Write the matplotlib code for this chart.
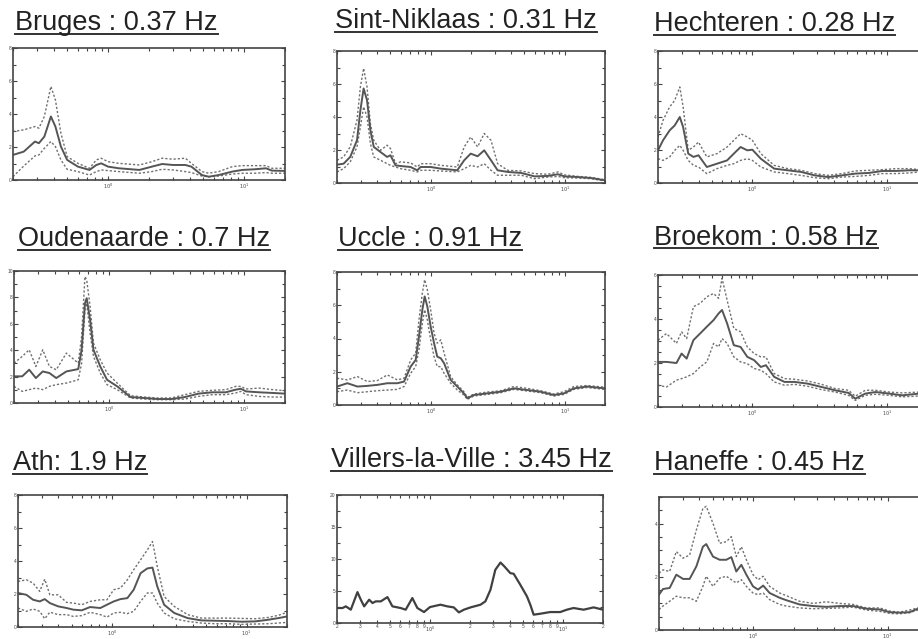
import math
import matplotlib.pyplot as plt
from matplotlib.lines import Line2D
from matplotlib.ticker import FixedLocator, FuncFormatter, MultipleLocator, NullFormatter

plt.rcParams['font.family'] = ['Liberation Sans', 'DejaVu Sans']

# ---- data (H/V spectral ratio, frequency in Hz) ----
bruges_f = [0.2, 0.24, 0.29, 0.31, 0.34, 0.38, 0.41, 0.45, 0.5, 0.6, 0.73, 0.82, 0.89, 1.0, 1.2,
            1.7, 2.1, 2.5, 3.0, 3.7, 4.1, 4.9, 5.5, 6.5, 8.2, 9.7, 12, 14.5, 16, 20]
bruges_mean = [1.52, 1.72, 2.33, 2.23, 2.63, 3.85, 3.24, 2.03, 1.22, 0.81, 0.61, 0.91, 1.01, 0.81, 0.71,
               0.61, 0.81, 0.97, 0.91, 0.91, 0.81, 0.30, 0.20, 0.30, 0.51, 0.61, 0.65, 0.71, 0.57, 0.55]
bruges_hi = [2.94, 3.04, 3.24, 3.14, 3.85, 5.67, 4.86, 2.84, 1.42, 1.01, 0.71, 1.22, 1.32, 1.11, 1.01,
             0.91, 1.11, 1.32, 1.26, 1.32, 1.01, 0.51, 0.41, 0.51, 0.81, 0.87, 0.87, 0.87, 0.71, 0.71]
bruges_lo = [0.20, 0.85, 1.46, 1.52, 1.92, 2.33, 2.03, 1.22, 0.65, 0.51, 0.30, 0.51, 0.61, 0.57, 0.51,
             0.41, 0.51, 0.65, 0.61, 0.51, 0.45, 0.24, 0.20, 0.24, 0.36, 0.41, 0.41, 0.45, 0.41, 0.41]

sint_f = [0.2, 0.224, 0.251, 0.282, 0.299, 0.316, 0.335, 0.355, 0.376, 0.422, 0.473, 0.501, 0.547,
          0.596, 0.708, 0.794, 0.841, 1.0, 1.19, 1.58, 1.78, 1.99, 2.24, 2.51, 2.82, 3.16, 3.76,
          4.73, 5.96, 7.5, 8.9, 10, 12.6, 15.8, 20]
sint_mean = [1.11, 1.17, 1.58, 2.59, 4.41, 5.73, 5.02, 3.2, 2.19, 1.88, 1.58, 1.68, 1.07, 1.03, 0.97,
             0.77, 0.97, 0.97, 0.87, 0.77, 1.38, 1.78, 1.62, 1.98, 1.38, 0.77, 0.67, 0.61, 0.4, 0.43,
             0.53, 0.4, 0.36, 0.3, 0.16]
sint_hi = [1.38, 1.58, 2.19, 3.81, 5.83, 6.95, 5.83, 3.6, 2.59, 1.98, 2.29, 2.09, 1.17, 1.28, 1.22,
           0.97, 1.17, 1.17, 1.07, 0.97, 2.19, 2.79, 2.19, 3.0, 2.59, 1.17, 0.77, 0.73, 0.57, 0.53,
           0.67, 0.49, 0.4, 0.34, 0.2]
sint_lo = [0.67, 0.87, 1.28, 2.19, 3.4, 4.62, 4.01, 2.39, 1.58, 1.38, 1.17, 1.07, 0.97, 0.87, 0.77,
           0.67, 0.77, 0.77, 0.73, 0.67, 0.87, 1.07, 0.97, 1.17, 0.77, 0.47, 0.47, 0.47, 0.26, 0.36,
           0.4, 0.32, 0.3, 0.26, 0.12]

hech_f = [0.2, 0.218, 0.244, 0.266, 0.29, 0.307, 0.335, 0.366, 0.399, 0.46, 0.547, 0.65, 0.729, 0.818,
          0.917, 1.0, 1.155, 1.45, 1.83, 2.3, 2.9, 3.65, 4.6, 5.8, 7.3, 9.2, 11.6, 14.5, 17.3, 20]
hech_mean = [1.98, 2.59, 3.19, 3.49, 4.0, 3.39, 1.78, 1.58, 1.68, 0.97, 1.17, 1.37, 1.78, 2.18, 1.98,
             2.02, 1.47, 0.87, 0.77, 0.67, 0.46, 0.36, 0.46, 0.57, 0.61, 0.73, 0.73, 0.77, 0.77, 0.77]
hech_hi = [2.79, 3.8, 4.61, 5.01, 5.82, 4.61, 1.98, 2.18, 2.48, 1.58, 1.78, 2.18, 2.59, 2.99, 2.79,
           2.59, 1.78, 1.07, 0.87, 0.77, 0.57, 0.46, 0.57, 0.73, 0.77, 0.81, 0.87, 0.87, 0.81, 0.81]
hech_lo = [1.47, 1.37, 1.58, 1.98, 2.28, 1.98, 1.37, 1.07, 0.97, 0.57, 0.87, 1.07, 1.17, 1.37, 1.47,
           1.37, 0.97, 0.67, 0.57, 0.46, 0.32, 0.26, 0.36, 0.4, 0.46, 0.57, 0.57, 0.61, 0.67, 0.67]

oud_f = [0.2, 0.23, 0.259, 0.29, 0.326, 0.365, 0.41, 0.487, 0.596, 0.631, 0.668, 0.688, 0.729, 0.772,
         0.866, 0.972, 1.155, 1.45, 1.83, 2.3, 2.9, 3.65, 4.6, 5.8, 7.3, 8.66, 9.45, 10.3, 12.9, 16.3, 20]
oud_mean = [2.02, 2.02, 2.52, 1.89, 2.39, 2.27, 1.89, 2.39, 2.57, 4.03, 7.56, 7.94, 6.3, 4.03, 2.77,
            1.76, 1.26, 0.45, 0.38, 0.3, 0.3, 0.45, 0.71, 0.81, 0.81, 1.01, 1.08, 0.88, 0.81, 0.76, 0.71]
oud_hi = [3.02, 3.53, 4.03, 2.77, 4.03, 2.77, 2.52, 3.78, 3.02, 5.04, 9.58, 9.32, 7.31, 4.54, 3.28,
          2.27, 1.51, 0.55, 0.45, 0.38, 0.38, 0.63, 0.88, 0.96, 1.01, 1.26, 1.26, 1.06, 1.13, 1.01, 0.93]
oud_lo = [1.26, 0.88, 1.01, 1.13, 1.01, 1.26, 1.39, 1.51, 1.76, 3.02, 7.06, 7.56, 5.29, 3.53, 2.27,
          1.39, 1.01, 0.38, 0.3, 0.25, 0.25, 0.3, 0.5, 0.63, 0.63, 0.76, 0.88, 0.63, 0.5, 0.45, 0.45]

uccle_f = [0.2, 0.239, 0.284, 0.337, 0.4, 0.475, 0.564, 0.633, 0.709, 0.773, 0.818, 0.867, 0.902,
           0.944, 1.0, 1.06, 1.12, 1.19, 1.26, 1.41, 1.58, 1.77, 1.88, 2.1, 2.65, 3.33, 4.18, 5.27,
           6.6, 8.3, 9.9, 11.7, 14.7, 20]
uccle_mean = [1.11, 1.31, 1.11, 1.15, 1.21, 1.31, 1.31, 1.41, 2.31, 2.71, 4.12, 5.73, 6.53, 5.93, 4.72,
              3.72, 2.91, 2.81, 2.51, 1.51, 1.11, 0.7, 0.4, 0.6, 0.7, 0.8, 1.0, 0.9, 0.8, 0.6, 0.7,
              1.0, 1.11, 1.0]
uccle_hi = [1.61, 1.51, 1.71, 1.41, 1.47, 1.81, 1.51, 1.61, 2.71, 3.12, 5.13, 6.73, 7.54, 6.93, 5.73,
            4.32, 3.72, 3.92, 3.12, 1.71, 1.21, 0.8, 0.46, 0.66, 0.78, 0.86, 1.11, 1.0, 0.86, 0.66,
            0.8, 1.11, 1.17, 1.07]
uccle_lo = [0.8, 0.9, 0.74, 0.8, 0.86, 0.9, 0.94, 1.11, 1.91, 2.31, 3.32, 4.92, 5.73, 5.13, 3.92,
            2.91, 2.31, 2.31, 1.91, 1.31, 0.9, 0.6, 0.34, 0.54, 0.64, 0.74, 0.94, 0.84, 0.74, 0.54,
            0.64, 0.94, 1.05, 0.94]

broek_f = [0.2, 0.231, 0.274, 0.299, 0.326, 0.366, 0.41, 0.46, 0.516, 0.562, 0.596, 0.65, 0.729, 0.818,
           0.917, 1.03, 1.155, 1.26, 1.45, 1.73, 2.05, 2.58, 3.25, 4.1, 5.16, 5.78, 6.87, 8.17, 10.3,
           12.9, 17.3, 20]
broek_mean = [2.05, 2.05, 2.0, 2.43, 2.2, 3.04, 3.34, 3.65, 3.95, 4.25, 4.41, 3.8, 2.81, 2.73, 2.28,
              2.13, 1.82, 1.9, 1.37, 1.14, 1.14, 1.06, 0.91, 0.76, 0.64, 0.38, 0.61, 0.68, 0.61, 0.53,
              0.61, 0.61]
broek_hi = [3.04, 3.34, 2.89, 3.42, 3.11, 4.56, 4.71, 5.01, 5.16, 4.94, 5.85, 4.86, 3.57, 3.42, 2.73,
            2.43, 2.28, 2.28, 1.52, 1.29, 1.26, 1.18, 1.03, 0.84, 0.76, 0.49, 0.76, 0.76, 0.68, 0.64,
            0.68, 0.68]
broek_lo = [0.99, 0.91, 1.22, 1.29, 1.37, 1.52, 1.82, 2.05, 2.89, 2.73, 3.11, 2.89, 2.28, 2.05, 1.97,
            1.75, 1.67, 1.52, 1.14, 0.99, 1.03, 0.94, 0.79, 0.68, 0.53, 0.3, 0.53, 0.58, 0.53, 0.46,
            0.5, 0.5]

ath_f = [0.2, 0.231, 0.259, 0.29, 0.316, 0.345, 0.398, 0.46, 0.516, 0.596, 0.688, 0.818, 0.917, 1.03,
         1.155, 1.3, 1.45, 1.63, 1.83, 2.0, 2.17, 2.44, 2.9, 3.65, 4.6, 5.8, 7.3, 9.2, 11.6, 14.5, 17.3, 20]
ath_mean = [2.06, 1.95, 1.65, 1.55, 1.69, 1.45, 1.25, 1.15, 1.05, 1.01, 1.21, 1.15, 1.35, 1.55, 1.69,
            1.75, 2.26, 3.26, 3.55, 3.6, 2.46, 1.35, 0.85, 0.54, 0.4, 0.38, 0.36, 0.32, 0.34, 0.44,
            0.54, 0.64]
ath_hi = [2.76, 2.86, 2.66, 2.16, 2.9, 1.95, 1.95, 1.49, 1.45, 1.35, 1.55, 1.65, 1.65, 2.26, 2.36,
          2.86, 3.47, 4.07, 4.67, 5.18, 3.67, 1.85, 1.25, 0.75, 0.54, 0.54, 0.54, 0.52, 0.5, 0.58,
          0.71, 0.89]
ath_lo = [1.15, 0.95, 1.09, 0.95, 0.5, 0.9, 0.75, 0.75, 0.64, 0.69, 0.89, 0.75, 0.6, 0.85, 0.89,
          0.81, 0.95, 1.55, 2.06, 2.06, 1.45, 0.85, 0.5, 0.34, 0.24, 0.2, 0.2, 0.16, 0.18, 0.2,
          0.24, 0.28]

vil_f = [0.2, 0.22, 0.233, 0.254, 0.285, 0.302, 0.32, 0.349, 0.37, 0.391, 0.427, 0.479, 0.522, 0.602,
         0.657, 0.737, 0.804, 0.902, 1.0, 1.2, 1.35, 1.51, 1.65, 1.8, 2.02, 2.4, 2.61, 2.85, 3.1, 3.39,
         3.63, 4.02, 4.26, 4.78, 5.36, 5.68, 6.02, 6.76, 8.0, 9.53, 10.7, 12, 14.3, 17, 20]
vil_hv = [2.34, 2.34, 2.6, 2.08, 4.83, 3.64, 2.6, 3.64, 3.12, 3.38, 3.38, 4.05, 2.6, 2.34, 2.08,
          3.9, 2.34, 1.71, 2.49, 2.86, 2.6, 2.44, 1.66, 2.08, 2.44, 2.86, 3.38, 5.19, 8.31, 9.45,
          8.83, 7.79, 7.69, 5.97, 4.16, 2.86, 1.3, 1.45, 1.71, 1.71, 2.08, 2.34, 2.08, 2.44, 2.08]

han_f = [0.2, 0.214, 0.24, 0.269, 0.302, 0.338, 0.379, 0.424, 0.449, 0.504, 0.565, 0.633, 0.69, 0.751,
         0.819, 0.892, 1.0, 1.09, 1.19, 1.33, 1.58, 1.77, 2.22, 2.8, 3.51, 4.42, 5.55, 6.97, 8.76,
         10.4, 12.3, 14.6, 16.8, 20]
han_mean = [1.33, 1.54, 1.58, 2.08, 1.92, 1.92, 2.39, 3.13, 3.23, 2.76, 2.64, 2.64, 2.74, 2.2, 2.45,
            2.08, 1.64, 1.52, 1.67, 1.39, 1.21, 1.12, 0.96, 0.9, 0.87, 0.9, 0.9, 0.8, 0.77, 0.67,
            0.65, 0.67, 0.8, 0.8]
han_hi = [2.14, 2.26, 2.2, 2.95, 2.7, 2.82, 3.76, 4.57, 4.65, 4.01, 3.26, 3.32, 3.51, 2.76, 3.13,
          2.64, 2.08, 1.89, 2.02, 1.64, 1.39, 1.29, 1.08, 1.0, 1.06, 1.0, 0.96, 0.83, 0.83, 0.71,
          0.67, 0.75, 0.83, 0.83]
han_lo = [0.77, 0.9, 1.08, 1.27, 1.21, 1.21, 1.08, 1.64, 2.02, 1.64, 1.95, 2.02, 1.89, 1.77, 1.89,
          1.64, 1.39, 1.33, 1.39, 1.14, 0.96, 0.9, 0.83, 0.8, 0.81, 0.83, 0.86, 0.75, 0.7, 0.62,
          0.61, 0.65, 0.75, 0.75]

titles = ['Bruges : 0.37 Hz', 'Sint-Niklaas : 0.31 Hz', 'Hechteren : 0.28 Hz',
          'Oudenaarde : 0.7 Hz', 'Uccle : 0.91 Hz', 'Broekom : 0.58 Hz',
          'Ath: 1.9 Hz', 'Villers-la-Ville : 3.45 Hz', 'Haneffe : 0.45 Hz']

W, H = 918, 639
fig = plt.figure(figsize=(W / 100, H / 100), dpi=100)

# (axes box in pixels: x0, x1, ytop, ybottom), (title left, baseline), y max, major step, minor step,
# show minor x labels
layout = [
    ((13, 285, 48, 180), (15, 30), 8, 2, 1, False),
    ((337, 605, 51, 183), (335, 28), 8, 2, 1, False),
    ((658, 928, 51, 183), (654, 31), 8, 2, 1, False),
    ((14, 285, 271, 403), (18, 246), 10, 2, 1, False),
    ((337, 605, 272, 405), (338, 246), 8, 2, 1, False),
    ((658, 928, 275, 407), (654, 245), 6, 2, 0.5, False),
    ((18, 287, 495, 627), (13, 470), 8, 2, 1, False),
    ((337, 603, 495, 623), (331, 467), 20, 5, 2.5, True),
    ((659, 928, 497, 630), (654, 470), 5, 2, 0.5, False),
]

series = [
    (bruges_f, bruges_mean, bruges_hi, bruges_lo),
    (sint_f, sint_mean, sint_hi, sint_lo),
    (hech_f, hech_mean, hech_hi, hech_lo),
    (oud_f, oud_mean, oud_hi, oud_lo),
    (uccle_f, uccle_mean, uccle_hi, uccle_lo),
    (broek_f, broek_mean, broek_hi, broek_lo),
    (ath_f, ath_mean, ath_hi, ath_lo),
    (vil_f, vil_hv, None, None),
    (han_f, han_mean, han_hi, han_lo),
]

minor_x = [0.2, 0.3, 0.4, 0.5, 0.6, 0.7, 0.8, 0.9, 2, 3, 4, 5, 6, 7, 8, 9, 20]


def xlabel(v, pos):
    e = int(math.floor(math.log10(v) + 1e-9))
    if abs(v - 10 ** e) < 1e-9:
        return r'$10^{%d}$' % e
    return '%d' % round(v / 10 ** e)


title_texts = []
for (box, tpos, ymax, major, minor, minor_lab), title, (f, mean, hi, lo) in zip(layout, titles, series):
    x0, x1, yt, yb = box
    ax = fig.add_axes([x0 / W, 1 - yb / H, (x1 - x0) / W, (yb - yt) / H])
    ax.set_xscale('log')
    ax.set_xlim(0.2, 20)
    ax.set_ylim(0, ymax)
    if hi is not None:
        ax.plot(f, hi, ls=(0, (1.6, 1.4)), color='#707070', lw=1.0)
        ax.plot(f, lo, ls=(0, (1.6, 1.4)), color='#707070', lw=1.0)
        ax.plot(f, mean, color='#555555', lw=1.4)
    else:
        ax.plot(f, mean, color='#404040', lw=1.6)
    ax.xaxis.set_major_locator(FixedLocator([1, 10]))
    ax.xaxis.set_minor_locator(FixedLocator(minor_x))
    ax.xaxis.set_major_formatter(FuncFormatter(xlabel))
    ax.xaxis.set_minor_formatter(FuncFormatter(xlabel) if minor_lab else NullFormatter())
    ax.yaxis.set_major_locator(MultipleLocator(major))
    ax.yaxis.set_minor_locator(MultipleLocator(minor))
    ax.tick_params(which='both', direction='in', top=True, right=True,
                   labelsize=3.5, pad=1.0, colors='#444444', width=0.8)
    ax.tick_params(which='major', length=3)
    ax.tick_params(which='minor', length=2)
    for s in ax.spines.values():
        s.set_color('#444444')
        s.set_linewidth(1.2)

    t = fig.text(tpos[0] / W, 1 - tpos[1] / H, title, fontsize=19.5,
                 ha='left', va='baseline', color='#222222')
    title_texts.append((t, tpos[1]))

# underline the titles
renderer = fig.canvas.get_renderer()
for t, base in title_texts:
    bb = t.get_window_extent(renderer)
    uy = 1 - (base + 3.5) / H
    fig.add_artist(Line2D([bb.x0 / W, bb.x1 / W], [uy, uy], transform=fig.transFigure,
                          color='#333333', lw=1.4))

fig.savefig('out.png', dpi=100, facecolor='white')
